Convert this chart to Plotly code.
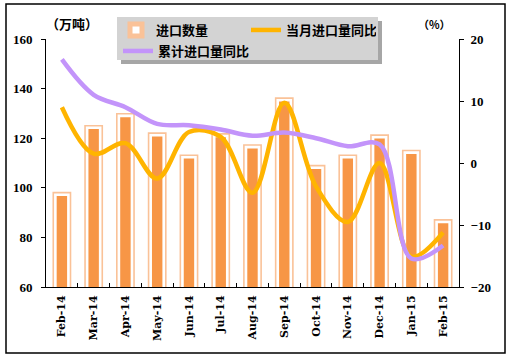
import plotly.graph_objects as go

categories = ["Feb-14", "Mar-14", "Apr-14", "May-14", "Jun-14", "Jul-14", "Aug-14",
              "Sep-14", "Oct-14", "Nov-14", "Dec-14", "Jan-15", "Feb-15"]
import_volume = [97.2, 124.2, 129.0, 121.2, 112.3, 120.9, 116.4, 135.3, 108.1, 112.3, 120.4, 114.2, 86.2]
monthly_yoy = [9.0, 1.5, 3.2, -2.5, 5.0, 4.2, -4.8, 9.7, -3.8, -9.5, 0.0, -15.1, -11.2]
cumulative_yoy = [16.7, 11.0, 9.0, 6.3, 6.1, 5.4, 4.4, 4.9, 4.0, 2.7, 3.0, -15.4, -13.3]

left_ticks = [60, 80, 100, 120, 140, 160]
right_ticks = [-20, -10, 0, 10, 20]

BAR_ORANGE = "#F79646"
BAR_PEACH = "#FAC298"
LINE_ORANGE = "#FFB400"
LINE_PURPLE = "#C394FA"
CJK = "Noto Sans CJK SC"
SERIF = "DejaVu Serif"
SERIF_NARROW = "Liberation Serif"

fig = go.Figure()

# peach outer ring (behind), in legend
fig.add_trace(go.Bar(
    x=categories, y=import_volume, width=0.41, name="进口数量",
    marker=dict(color="rgba(255,255,255,1)", line=dict(color=BAR_PEACH, width=5.8)),
    legend="legend", showlegend=True, hoverinfo="skip",
))
# orange core with white border
fig.add_trace(go.Bar(
    x=categories, y=import_volume, width=0.41, name="进口数量",
    marker=dict(color=BAR_ORANGE, line=dict(color="white", width=2.6)),
    showlegend=False,
))
fig.add_trace(go.Scatter(
    x=categories, y=monthly_yoy, yaxis="y2", name="当月进口量同比", mode="lines",
    line=dict(color=LINE_ORANGE, width=4.5, shape="spline", smoothing=1.0),
    legend="legend",
))
fig.add_trace(go.Scatter(
    x=categories, y=cumulative_yoy, yaxis="y2", name="累计进口量同比", mode="lines",
    line=dict(color=LINE_PURPLE, width=4.5, shape="spline", smoothing=1.0),
    legend="legend2",
))

W, H = 513, 359
L, R, T, B = 46, 54, 39, 72
pw, ph = W - L - R, H - T - B


def px(xp):
    return (xp - L) / pw


def py(yp):
    return (H - B - yp) / ph


tickfont = dict(family=SERIF_NARROW, size=13, color="black", weight="bold")

fig.update_layout(
    width=W, height=H,
    margin=dict(l=L, r=R, t=T, b=B, pad=0, autoexpand=False),
    paper_bgcolor="white", plot_bgcolor="white",
    barmode="overlay",
    xaxis=dict(
        type="category", showgrid=False, showline=True, linecolor="black", linewidth=1,
        ticks="inside", ticklen=4, tickcolor="black", tickson="boundaries",
        tickangle=-90, tickfont=dict(family=SERIF, size=11, color="black", weight="bold"),
        ticklabelstandoff=3, automargin=False,
    ),
    yaxis=dict(
        range=[60, 160], tickvals=left_ticks, showgrid=False, zeroline=False,
        showline=True, linecolor="black", linewidth=1, ticks="outside", ticklen=4,
        tickcolor="black", tickfont=tickfont, ticklabelstandoff=6, automargin=False,
    ),
    yaxis2=dict(
        range=[-20, 20], tickvals=right_ticks, overlaying="y", side="right",
        showgrid=False, zeroline=False, showline=True, linecolor="black", linewidth=1,
        ticks="outside", ticklen=4, tickcolor="black", tickfont=tickfont,
        ticklabelstandoff=4, automargin=False,
    ),
    legend=dict(
        orientation="h", x=px(116), y=py(15), xanchor="left", yanchor="top",
        bgcolor="rgba(0,0,0,0)", borderwidth=0, entrywidth=85, entrywidthmode="pixels",
        font=dict(family=CJK, size=13, color="black", weight="bold"),
        traceorder="normal",
    ),
    legend2=dict(
        orientation="h", x=px(118), y=py(36), xanchor="left", yanchor="top",
        bgcolor="rgba(0,0,0,0)", borderwidth=0,
        font=dict(family=CJK, size=13, color="black", weight="bold"),
    ),
    shapes=[
        dict(type="rect", xref="paper", yref="paper", x0=px(6), x1=px(505), y0=py(353), y1=py(4),
             line=dict(color="black", width=1.5), fillcolor="rgba(0,0,0,0)", layer="above"),
        dict(type="rect", xref="paper", yref="paper", x0=px(121), x1=px(382), y0=py(64), y1=py(21),
             line=dict(width=0), fillcolor="#A6A6A6", layer="above"),
        dict(type="rect", xref="paper", yref="paper", x0=px(117), x1=px(378), y0=py(60), y1=py(17),
             line=dict(width=0), fillcolor="#D3D3D3", layer="above"),
    ],
    annotations=[
        dict(text="（万吨）", xref="paper", yref="paper", x=px(72), y=py(24),
             xanchor="center", yanchor="middle", showarrow=False,
             font=dict(family=CJK, size=13, color="black", weight="bold")),
        dict(text="（%）", xref="paper", yref="paper", x=px(434), y=py(24),
             xanchor="center", yanchor="middle", showarrow=False,
             font=dict(family=CJK, size=11, color="black", weight="bold")),
    ],
)

fig.write_html("out.html", config={"displayModeBar": False},
               post_script="document.body.style.margin='0';")
